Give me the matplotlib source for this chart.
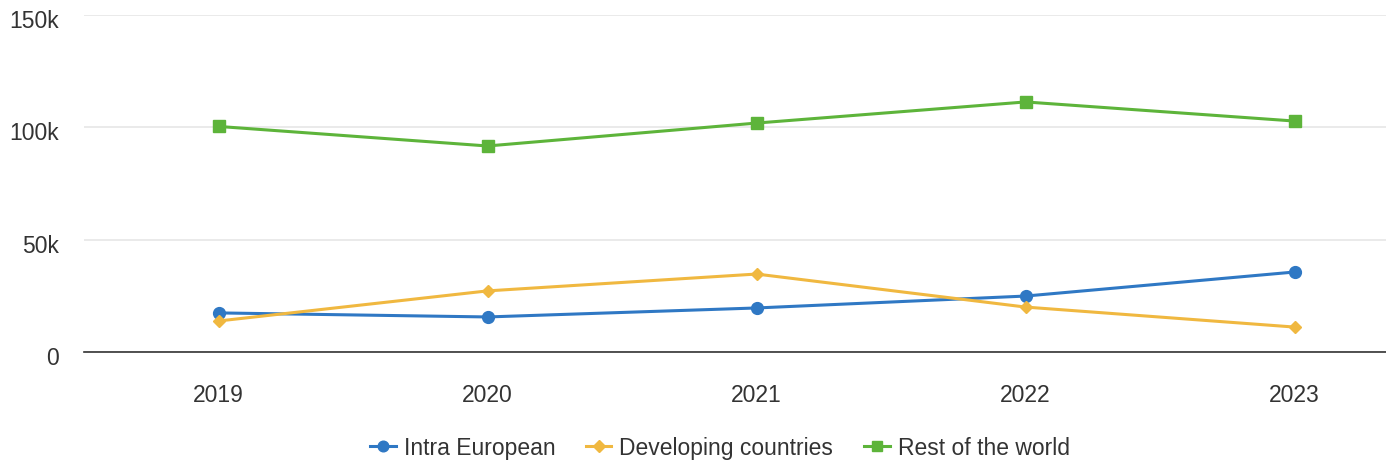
import matplotlib
matplotlib.use("Agg")
import matplotlib.pyplot as plt
import matplotlib.transforms as mtransforms
from matplotlib.ticker import FuncFormatter

plt.rcParams['font.family'] = ['Liberation Sans', 'DejaVu Sans']

years = ["2019", "2020", "2021", "2022", "2023"]
intra_european = [17400, 15600, 19600, 24900, 35600]
developing = [13800, 27200, 34700, 20000, 11100]
rest_of_world = [100400, 91700, 101900, 111300, 102800]
y_ticks = [0, 50000, 100000, 150000]

fig = plt.figure(figsize=(13.86, 4.64), dpi=100)
ax = fig.add_axes([84/1386, (464-353)/464, 1 - 84/1386, (353-16)/464])

x = list(range(len(years)))
ax.plot(x, intra_european, color="#2f78c4", lw=2.2, marker="o", ms=8.5, label="Intra European", zorder=3)
ax.plot(x, developing, color="#f0b840", lw=2.2, marker="D", ms=6.5, label="Developing countries", zorder=3)
ax.plot(x, rest_of_world, color="#5db43a", lw=2.2, marker="s", ms=8.5, label="Rest of the world", zorder=3)

ax.set_xlim(-0.5, -0.5 + 1302/269)
ax.set_ylim(0, 150000)
ax.set_yticks(y_ticks)
ax.yaxis.set_major_formatter(FuncFormatter(lambda v, p: "0" if v == 0 else f"{int(v/1000)}k"))
ax.set_xticks(x)
ax.set_xticklabels(years)
ax.grid(axis="y", color="#e6e6e6", lw=1.2)
ax.set_axisbelow(True)
for s in ["top", "right", "left"]:
    ax.spines[s].set_visible(False)
ax.spines["bottom"].set_color("#333333")
ax.spines["bottom"].set_linewidth(1.2)
ax.tick_params(axis="both", length=0, labelsize=16.5, colors="#333333")
ax.tick_params(axis="y", pad=18)
ax.tick_params(axis="x", pad=22)

offset = mtransforms.ScaledTranslation(0, -3/100, fig.dpi_scale_trans)
for lbl in ax.get_yticklabels():
    lbl.set_transform(lbl.get_transform() + offset)

leg = fig.legend(loc="center", bbox_to_anchor=(720/1386, 1 - 449/464), ncol=3, frameon=False,
                 fontsize=16.5, handlelength=1.1, columnspacing=1.35, handletextpad=0.35, markerscale=0.9)
for t in leg.get_texts():
    t.set_color("#333333")

fig.savefig("out.png", dpi=100)
